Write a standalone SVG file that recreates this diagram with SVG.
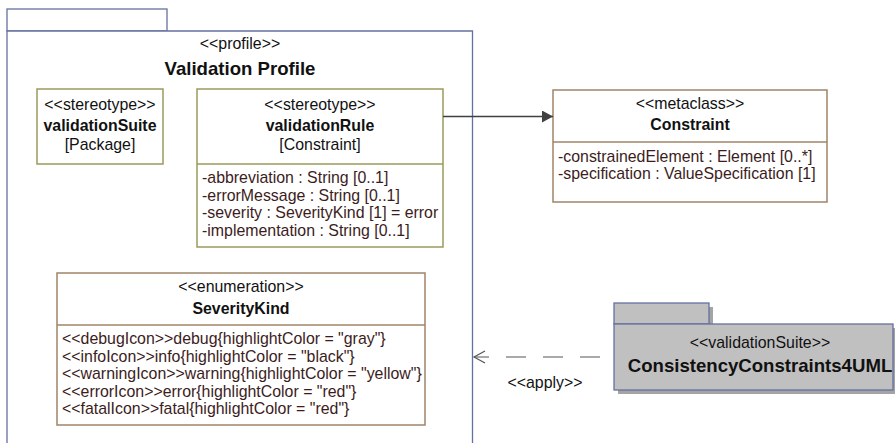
<svg xmlns="http://www.w3.org/2000/svg" width="895" height="443" viewBox="0 0 895 443">
  <defs>
    <marker id="filled" markerWidth="12" markerHeight="12" refX="11" refY="6" orient="auto" markerUnits="userSpaceOnUse">
      <path d="M0,0 L11,6 L0,12 Z" fill="#404040"/>
    </marker>
    <marker id="open" markerWidth="14" markerHeight="14" refX="12" refY="7" orient="auto" markerUnits="userSpaceOnUse">
      <path d="M1,1 L12,7 L1,13" fill="none" stroke="#555" stroke-width="1.2"/>
    </marker>
  </defs>
  <style>
    text { font-family: "Liberation Sans", Arial, sans-serif; font-size: 15.9px; fill: #111; }
    .c { text-anchor: middle; }
    .b { font-weight: bold; }
    .big { font-size: 18.6px; font-weight: bold; }
    .attr { fill: #3c1c1c; }
    .pkg { fill: #fff; stroke: #6670a0; stroke-width: 1.3; }
    .stereo { fill: #fff; stroke: #9a9a5c; stroke-width: 1.5; }
    .cls { fill: #fff; stroke: #a08468; stroke-width: 1.5; }
  </style>

  <!-- Validation Profile package -->
  <g id="validation-profile">
    <rect class="pkg" x="7" y="9" width="160" height="22"/>
    <path class="pkg" d="M7,450 L7,31 L472.5,31 L472.5,450"/>
    <text class="c" x="240" y="49">&lt;&lt;profile&gt;&gt;</text>
    <text class="c big" x="240" y="74.5">Validation Profile</text>
  </g>

  <g id="validationSuite">
    <rect class="stereo" x="37" y="89" width="126" height="75"/>
    <text class="c" x="100" y="110">&lt;&lt;stereotype&gt;&gt;</text>
    <text class="c b" x="100" y="130.5">validationSuite</text>
    <text class="c" x="100" y="150">[Package]</text>
  </g>

  <g id="validationRule">
    <rect class="stereo" x="197" y="89" width="246" height="158"/>
    <line x1="197" y1="164" x2="443" y2="164" stroke="#9a9a5c" stroke-width="1.5"/>
    <text class="c" x="320" y="110">&lt;&lt;stereotype&gt;&gt;</text>
    <text class="c b" x="320" y="130.5">validationRule</text>
    <text class="c" x="320" y="150">[Constraint]</text>
    <text class="attr" x="202" y="183">-abbreviation : String [0..1]</text>
    <text class="attr" x="202" y="200.5">-errorMessage : String [0..1]</text>
    <text class="attr" x="202" y="218">-severity : SeverityKind [1] = error</text>
    <text class="attr" x="202" y="235.5">-implementation : String [0..1]</text>
  </g>

  <g id="Constraint">
    <rect class="cls" x="553" y="90" width="274" height="112"/>
    <line x1="553" y1="142" x2="827" y2="142" stroke="#a08468" stroke-width="1.5"/>
    <text class="c" x="690" y="108.5">&lt;&lt;metaclass&gt;&gt;</text>
    <text class="c b" x="690" y="130">Constraint</text>
    <text class="attr" x="558" y="162">-constrainedElement : Element [0..*]</text>
    <text class="attr" x="558" y="179">-specification : ValueSpecification [1]</text>
  </g>

  <g id="SeverityKind">
    <rect class="cls" x="57" y="273" width="368" height="152"/>
    <line x1="57" y1="325" x2="425" y2="325" stroke="#a08468" stroke-width="1.5"/>
    <text class="c" x="241" y="292">&lt;&lt;enumeration&gt;&gt;</text>
    <text class="c b" x="241" y="313.5">SeverityKind</text>
    <text class="attr" x="62" y="344">&lt;&lt;debugIcon&gt;&gt;debug{highlightColor = "gray"}</text>
    <text class="attr" x="62" y="361.5">&lt;&lt;infoIcon&gt;&gt;info{highlightColor = "black"}</text>
    <text class="attr" x="62" y="379">&lt;&lt;warningIcon&gt;&gt;warning{highlightColor = "yellow"}</text>
    <text class="attr" x="62" y="396.5">&lt;&lt;errorIcon&gt;&gt;error{highlightColor = "red"}</text>
    <text class="attr" x="62" y="414">&lt;&lt;fatalIcon&gt;&gt;fatal{highlightColor = "red"}</text>
  </g>

  <g id="ConsistencyConstraints4UML">
    <!-- drop shadow -->
    <rect x="618" y="307" width="95" height="21" fill="#a4a4a4"/>
    <rect x="618" y="328" width="280" height="66" fill="#a4a4a4"/>
    <rect x="614" y="303" width="95" height="21" fill="#c0c0c0" stroke="#6670a0" stroke-width="1.3"/>
    <rect x="614" y="324" width="279" height="66" fill="#c0c0c0" stroke="#6670a0" stroke-width="1.3"/>
    <text class="c" x="760" y="348">&lt;&lt;validationSuite&gt;&gt;</text>
    <text class="c big" x="760" y="372">ConsistencyConstraints4UML</text>
  </g>

  <g id="connectors">
    <line x1="443" y1="116.5" x2="553" y2="116.5" stroke="#404040" stroke-width="1.5" marker-end="url(#filled)"/>
    <line x1="600" y1="357" x2="474" y2="357" stroke="#555" stroke-width="1.2" stroke-dasharray="20,17" marker-end="url(#open)"/>
    <text class="c" x="545" y="388">&lt;&lt;apply&gt;&gt;</text>
  </g>
</svg>
